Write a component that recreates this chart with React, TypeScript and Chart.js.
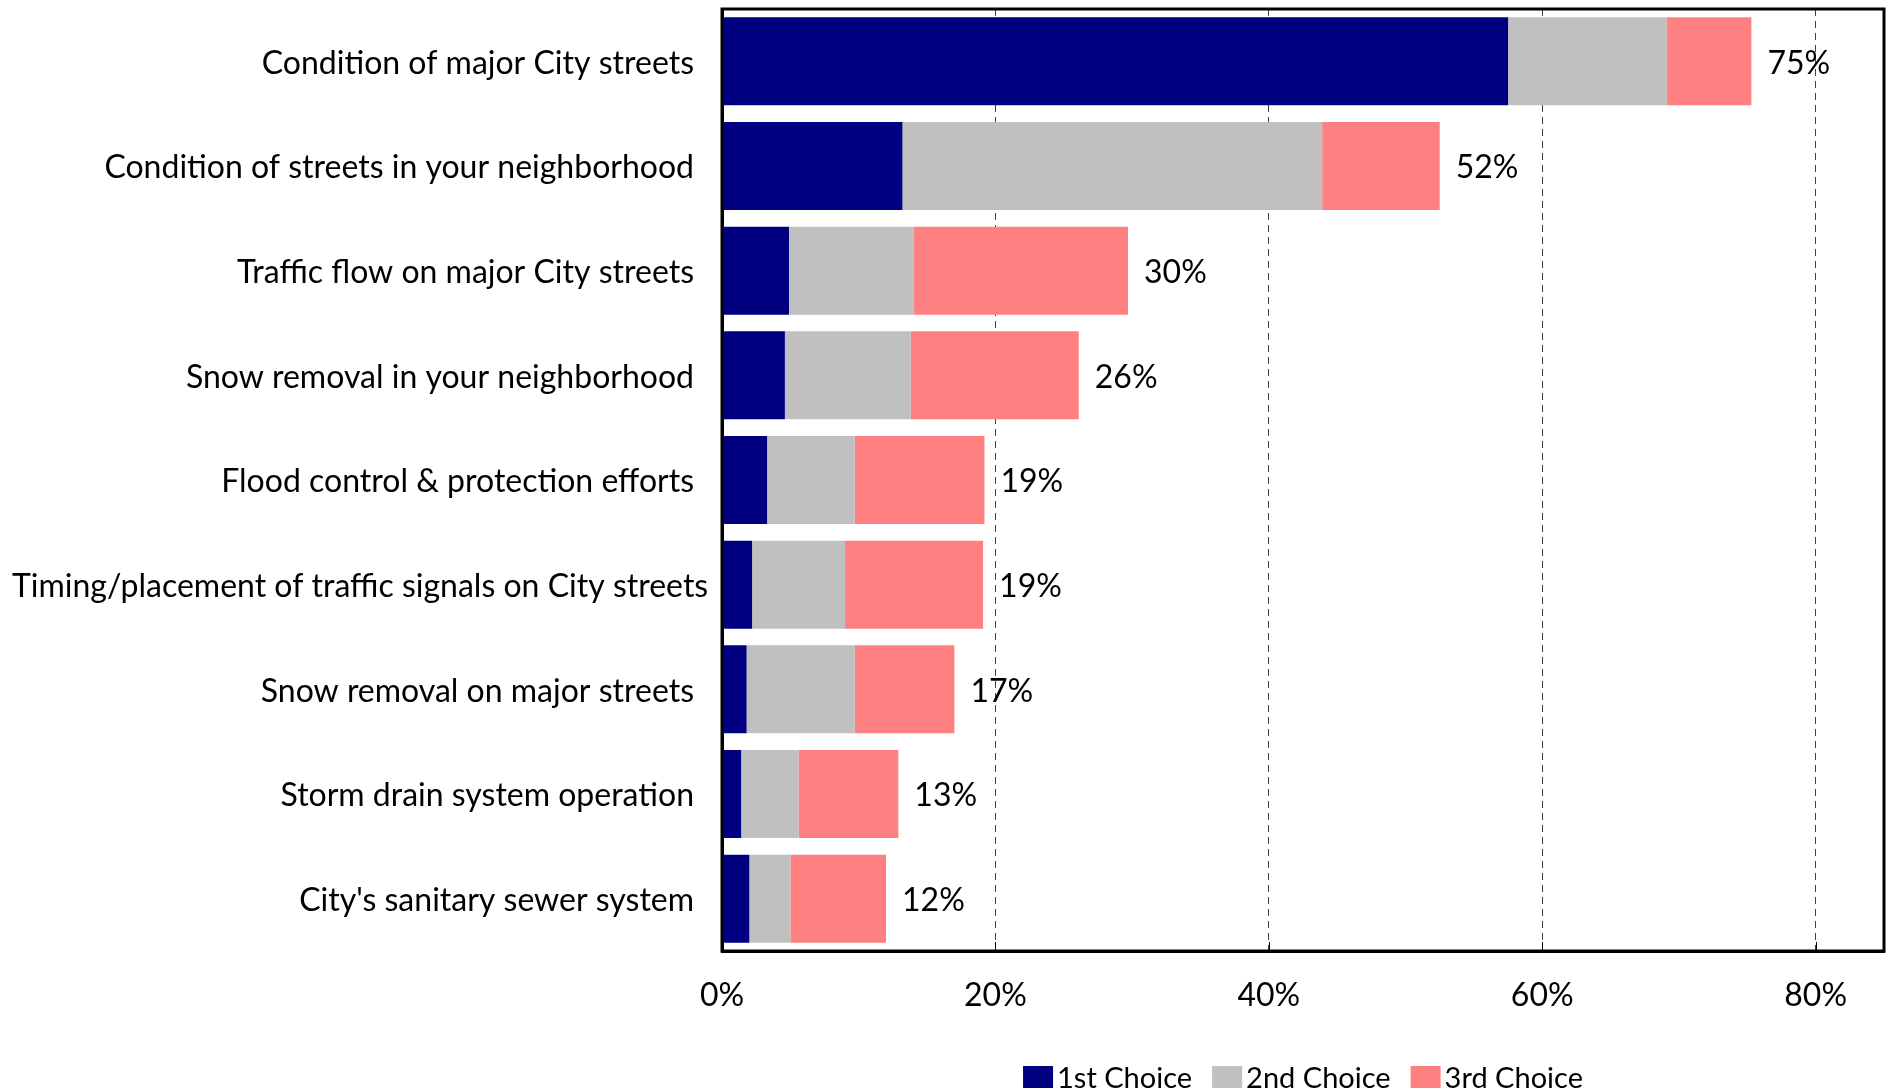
import React, { useEffect, useRef } from 'react';
import { Chart, registerables } from 'chart.js';

Chart.register(...registerables);

const categories = [
  'Condition of major City streets',
  'Condition of streets in your neighborhood',
  'Traffic flow on major City streets',
  'Snow removal in your neighborhood',
  'Flood control & protection efforts',
  'Timing/placement of traffic signals on City streets',
  'Snow removal on major streets',
  'Storm drain system operation',
  "City's sanitary sewer system",
];
const firstChoice = [57.5, 13.2, 4.9, 4.6, 3.3, 2.2, 1.8, 1.4, 2.0];
const secondChoice = [11.6, 30.7, 9.1, 9.2, 6.4, 6.8, 7.9, 4.2, 3.0];
const thirdChoice = [6.2, 8.6, 15.7, 12.3, 9.5, 10.1, 7.3, 7.3, 7.0];
const totalPercent = [75, 52, 30, 26, 19, 19, 17, 13, 12];
const seriesNames = ['1st Choice', '2nd Choice', '3rd Choice'];
const seriesColors = ['#000080', '#C0C0C0', '#FF8080'];
const xTickValues = [0, 20, 40, 60, 80];
const xMax = 85;

const FONT_FAMILY = 'Lato, "Open Sans", sans-serif';
const FONT_SIZE = 32;
const FONT = `${FONT_SIZE}px ${FONT_FAMILY}`;
const LEGEND_FONT = `29px ${FONT_FAMILY}`;

const customPlugin = {
  id: 'customDraw',
  afterDatasetsDraw(chart: any) {
    const ctx = chart.ctx;
    const last = chart.getDatasetMeta(chart.data.datasets.length - 1);
    ctx.save();
    ctx.font = FONT;
    ctx.fillStyle = '#000';
    ctx.textAlign = 'left';
    ctx.textBaseline = 'middle';
    last.data.forEach((bar: any, i: number) => {
      ctx.fillText(totalPercent[i] + '%', bar.x + 16, bar.y + 2);
    });
    ctx.restore();
  },
  afterDraw(chart: any) {
    const ctx = chart.ctx;
    const area = chart.chartArea;
    const xScale = chart.scales.x;
    const yScale = chart.scales.y;
    ctx.save();
    // inward tick marks
    ctx.strokeStyle = '#000';
    ctx.lineWidth = 1;
    ctx.setLineDash([]);
    xTickValues.forEach((v) => {
      if (v === 0) return;
      const x = Math.round(xScale.getPixelForValue(v)) + 0.5;
      ctx.beginPath();
      ctx.moveTo(x, area.bottom);
      ctx.lineTo(x, area.bottom - 9);
      ctx.stroke();
    });
    // plot border
    ctx.lineWidth = 3;
    ctx.strokeStyle = '#000';
    ctx.strokeRect(area.left, area.top, area.right - area.left, area.bottom - area.top);

    // category labels
    ctx.font = FONT;
    ctx.fillStyle = '#000';
    ctx.textBaseline = 'middle';
    categories.forEach((c, i) => {
      const y = yScale.getPixelForValue(i);
      const w = ctx.measureText(c).width;
      const right = area.left - 28;
      if (right - w < 12) {
        ctx.textAlign = 'left';
        ctx.fillText(c, 12, y + 2);
      } else {
        ctx.textAlign = 'right';
        ctx.fillText(c, right, y + 2);
      }
    });

    // legend
    ctx.font = LEGEND_FONT;
    const boxW = 30;
    const boxH = 22;
    const gapBoxText = 4;
    const gapItems = 20;
    const widths = seriesNames.map((n) => ctx.measureText(n).width);
    const total = widths.reduce((a, w) => a + boxW + gapBoxText + w, 0) + gapItems * (seriesNames.length - 1);
    let x = (area.left + area.right) / 2 - total / 2;
    const ly = 1077;
    ctx.textAlign = 'left';
    seriesNames.forEach((n, i) => {
      ctx.fillStyle = seriesColors[i];
      ctx.fillRect(x, ly - boxH / 2, boxW, boxH);
      x += boxW + gapBoxText;
      ctx.fillStyle = '#000';
      ctx.fillText(n, x, ly + 2);
      x += widths[i] + gapItems;
    });
    ctx.restore();
  },
};

export default function App() {
  const canvasRef = useRef<HTMLCanvasElement | null>(null);

  useEffect(() => {
    if (!canvasRef.current) return;
    const chart = new Chart(canvasRef.current, {
      type: 'bar',
      data: {
        labels: categories,
        datasets: [firstChoice, secondChoice, thirdChoice].map((d, i) => ({
          label: seriesNames[i],
          data: d,
          backgroundColor: seriesColors[i],
          borderWidth: 0,
          barPercentage: 0.84,
          categoryPercentage: 1,
        })),
      },
      options: {
        indexAxis: 'y',
        responsive: false,
        animation: false,
        devicePixelRatio: 1,
        layout: { padding: { top: 9, right: 7, left: 0, bottom: 0 } },
        plugins: {
          legend: { display: false },
          tooltip: { enabled: false },
        },
        scales: {
          x: {
            type: 'linear',
            stacked: true,
            min: 0,
            max: xMax,
            afterBuildTicks: (scale: any) => {
              scale.ticks = xTickValues.map((v) => ({ value: v }));
            },
            afterFit: (scale: any) => {
              scale.height = 141;
            },
            ticks: {
              font: { family: FONT_FAMILY, size: FONT_SIZE },
              color: '#000',
              padding: 25,
              maxRotation: 0,
              callback: (v: any) => v + '%',
            },
            grid: {
              drawTicks: false,
              color: (c: any) => (c.tick && c.tick.value === 0 ? 'rgba(0,0,0,0)' : '#404040'),
              lineWidth: 1,
            },
            border: { display: true, color: '#000', width: 3, dash: [7, 5] },
          },
          y: {
            type: 'category',
            stacked: true,
            afterFit: (scale: any) => {
              scale.width = 722;
            },
            ticks: { display: false },
            grid: { display: false, drawTicks: false },
            border: { display: true, color: '#000', width: 3 },
          },
        },
      },
      plugins: [customPlugin],
    });
    return () => chart.destroy();
  }, []);

  return (
    <div style={{ position: 'absolute', left: 0, top: 0, width: 1891, height: 1092, background: '#fff' }}>
      <canvas ref={canvasRef} width={1891} height={1092} style={{ display: 'block' }} />
    </div>
  );
}
